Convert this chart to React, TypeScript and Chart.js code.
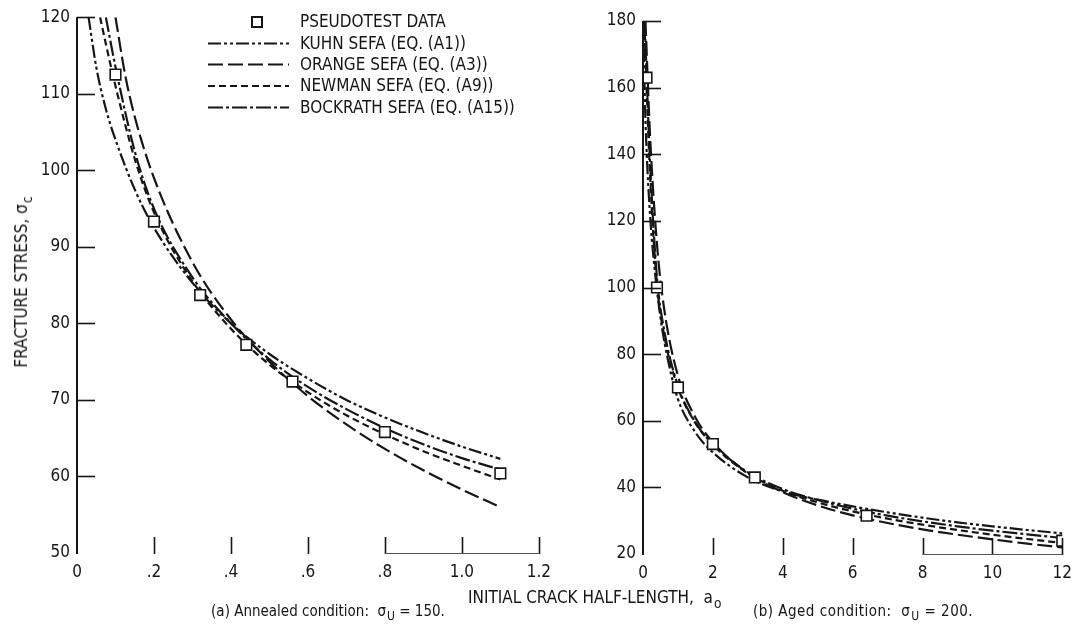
import React, { useEffect, useRef } from "react";
import { Chart, registerables } from "chart.js";
Chart.register(...registerables);

const FONT = '"Liberation Sans Narrow", "DejaVu Sans Condensed", "Arial Narrow", sans-serif';

// ---------- Panel (a): annealed ----------
const xTicksA = [0, 0.2, 0.4, 0.6, 0.8, 1.0, 1.2];
const xLabelsA = ["0", ".2", ".4", ".6", ".8", "1.0", "1.2"];
const yTicksA = [50, 60, 70, 80, 90, 100, 110, 120];

const testA_a = [0.1, 0.2, 0.32, 0.44, 0.56, 0.8, 1.1];
const testA_s = [112.5, 93.3, 83.7, 77.2, 72.4, 65.8, 60.4];

const kuhnA_a = [0.03, 0.05, 0.075, 0.1, 0.15, 0.2, 0.3, 0.4, 0.5, 0.6, 0.7, 0.8, 0.9, 1.0, 1.1];
const kuhnA_s = [120, 113.5, 108, 104, 97.5, 92.5, 85.3, 80, 76, 72.8, 70, 67.7, 65.7, 63.9, 62.3];

const orangeA_a = [0.1, 0.125, 0.15, 0.2, 0.3, 0.4, 0.5, 0.6, 0.7, 0.8, 0.9, 1.0, 1.1];
const orangeA_s = [120, 112.5, 107, 99, 88, 80.5, 75, 70.5, 66.8, 63.6, 60.8, 58.3, 56];

const newmanA_a = [0.06, 0.075, 0.1, 0.15, 0.2, 0.3, 0.4, 0.5, 0.6, 0.7, 0.8, 0.9, 1.0, 1.1];
const newmanA_s = [120, 116.5, 111, 101.5, 94.5, 85.5, 79.3, 74.6, 71, 68, 65.5, 63.3, 61.4, 59.6];

const bockA_a = [0.075, 0.1, 0.15, 0.2, 0.3, 0.4, 0.5, 0.6, 0.7, 0.8, 0.9, 1.0, 1.1];
const bockA_s = [120, 113.5, 102.5, 95, 86, 80, 75.3, 71.7, 68.8, 66.3, 64.2, 62.4, 60.9];

// ---------- Panel (b): aged ----------
const xTicksB = [0, 2, 4, 6, 8, 10, 12];
const xLabelsB = ["0", "2", "4", "6", "8", "10", "12"];
const yTicksB = [20, 40, 60, 80, 100, 120, 140, 160, 180];

const testB_a = [0.1, 0.4, 1, 2, 3.2, 6.4, 12];
const testB_s = [163, 100, 70, 53, 43, 31.5, 24];

const kuhnB_a = [0.015, 0.05, 0.1, 0.2, 0.3, 0.5, 0.75, 1, 1.5, 2, 3, 4, 5, 6, 7, 8, 9, 10, 11, 12];
const kuhnB_s = [180, 158, 142, 122, 109, 91, 76.5, 66.5, 56.5, 50.5, 43, 38.8, 36.3, 34.3, 32.5, 30.9, 29.5, 28.3, 27.2, 26.2];

const orangeB_a = [0.07, 0.1, 0.2, 0.4, 0.6, 1, 1.5, 2, 3, 4, 5, 6, 7, 8, 9, 10, 11, 12];
const orangeB_s = [180, 172, 146, 113, 94, 73.5, 61, 53.5, 44.3, 38.6, 34.6, 31.6, 29.3, 27.4, 25.8, 24.4, 23.1, 22];

const newmanB_a = [0.04, 0.1, 0.2, 0.4, 0.6, 1, 1.5, 2, 3, 4, 5, 6, 7, 8, 9, 10, 11, 12];
const newmanB_s = [180, 161, 134, 101, 86, 70, 59.3, 52.8, 44.2, 39, 35.5, 32.8, 30.6, 28.8, 27.2, 25.8, 24.5, 23.3];

const bockB_a = [0.05, 0.1, 0.2, 0.4, 0.6, 1, 1.5, 2, 3, 4, 5, 6, 7, 8, 9, 10, 11, 12];
const bockB_s = [180, 165, 138, 103, 87.5, 70.5, 59.5, 53, 44.5, 39.5, 36.2, 33.6, 31.5, 29.8, 28.3, 27, 25.9, 24.8];

const seriesNames = [
  "PSEUDOTEST DATA",
  "KUHN SEFA (EQ. (A1))",
  "ORANGE SEFA (EQ. (A3))",
  "NEWMAN SEFA (EQ. (A9))",
  "BOCKRATH SEFA (EQ. (A15))",
];

const INK = "#161616";
const DASH_KUHN = [13, 3, 3, 3, 3, 3];
const DASH_ORANGE = [15, 5];
const DASH_NEWMAN = [7, 4];
const DASH_BOCK = [15, 3, 3, 3];

const zip = (xs: number[], ys: number[]) => xs.map((x, i) => ({ x, y: ys[i] }));

function curve(label: string, xs: number[], ys: number[], dash: number[]) {
  return {
    label,
    data: zip(xs, ys),
    showLine: true,
    borderColor: INK,
    borderWidth: 2.2,
    borderDash: dash,
    pointRadius: 0,
    cubicInterpolationMode: "monotone" as const,
    fill: false,
  };
}

const axesPlugin = {
  id: "inwardAxes",
  afterDatasetsDraw(chart: any, _args: any, opts: any) {
    const { ctx, chartArea } = chart;
    const xs = chart.scales.x;
    const ys = chart.scales.y;
    ctx.save();
    ctx.setLineDash([]);
    ctx.strokeStyle = INK;
    ctx.lineWidth = 2;
    ctx.beginPath();
    ctx.moveTo(chartArea.left, chartArea.top);
    ctx.lineTo(chartArea.left, chartArea.bottom + 1);
    ctx.stroke();
    ctx.lineWidth = 1.6;
    opts.yTicks.forEach((v: number, i: number) => {
      if (i === 0) return;
      const py = Math.round(ys.getPixelForValue(v)) + 0.5;
      ctx.beginPath();
      ctx.moveTo(chartArea.left, py);
      ctx.lineTo(chartArea.left + opts.yLen, py);
      ctx.stroke();
    });
    opts.xTicks.forEach((v: number, i: number) => {
      if (i === 0) return;
      const px = Math.round(xs.getPixelForValue(v)) + 0.5;
      ctx.beginPath();
      ctx.moveTo(px, chartArea.bottom + 1);
      ctx.lineTo(px, chartArea.bottom - opts.xLen);
      ctx.stroke();
    });
    ctx.lineWidth = 1.2;
    ctx.strokeStyle = "#555";
    const b = Math.round(chartArea.bottom) + 0.5;
    ctx.beginPath();
    ctx.moveTo(xs.getPixelForValue(opts.baseFrom), b);
    ctx.lineTo(xs.getPixelForValue(opts.baseTo), b);
    ctx.stroke();
    ctx.restore();
  },
};

const legendPlugin = {
  id: "manualLegend",
  afterDatasetsDraw(chart: any, _args: any, opts: any) {
    if (!opts || !opts.show) return;
    const { ctx } = chart;
    const ds = chart.data.datasets;
    ctx.save();
    ctx.font = `17px ${FONT}`;
    ctx.fillStyle = INK;
    ctx.textBaseline = "middle";
    const rows = [22, 43.5, 64.5, 86, 107.5];
    ds.forEach((d: any, i: number) => {
      const y = rows[i];
      if (i === 0) {
        ctx.setLineDash([]);
        ctx.lineWidth = 2;
        ctx.strokeStyle = INK;
        ctx.fillStyle = "#fff";
        ctx.fillRect(252, y - 5, 10, 10);
        ctx.strokeRect(252, y - 5, 10, 10);
        ctx.fillStyle = INK;
      } else {
        ctx.setLineDash(d.borderDash || []);
        ctx.lineWidth = 2.2;
        ctx.strokeStyle = INK;
        ctx.beginPath();
        ctx.moveTo(208, y);
        ctx.lineTo(289, y);
        ctx.stroke();
      }
      ctx.fillText(d.label, 300, y + 1);
    });
    ctx.restore();
  },
};

function makeChart(
  canvas: HTMLCanvasElement,
  spec: {
    xMin: number; xMax: number; yMin: number; yMax: number;
    xTicks: number[]; xLabels: string[]; yTicks: number[];
    yWidth: number; xHeight: number; padTop: number; padRight: number;
    datasets: any[]; legend: boolean; baseFrom: number; baseTo: number;
  }
) {
  return new Chart(canvas, {
    type: "scatter",
    data: { datasets: spec.datasets },
    plugins: [axesPlugin, legendPlugin],
    options: {
      animation: false,
      responsive: false,
      devicePixelRatio: 1,
      layout: { padding: { top: spec.padTop, right: spec.padRight, left: 0, bottom: 0 } },
      plugins: {
        legend: { display: false },
        tooltip: { enabled: false },
        inwardAxes: {
          yTicks: spec.yTicks, xTicks: spec.xTicks, yLen: 18, xLen: 16,
          baseFrom: spec.baseFrom, baseTo: spec.baseTo,
        },
        manualLegend: { show: spec.legend },
      } as any,
      scales: {
        x: {
          type: "linear",
          min: spec.xMin,
          max: spec.xMax,
          afterFit: (s: any) => { s.height = spec.xHeight; },
          afterBuildTicks: (s: any) => { s.ticks = spec.xTicks.map((v) => ({ value: v })); },
          ticks: {
            autoSkip: false,
            maxRotation: 0,
            padding: 9,
            color: INK,
            font: { family: FONT, size: 17 },
            callback: (v: any) => spec.xLabels[spec.xTicks.indexOf(Number(v))] ?? "",
          },
          grid: { display: false, drawTicks: false },
          border: { display: false },
        },
        y: {
          type: "linear",
          min: spec.yMin,
          max: spec.yMax,
          afterFit: (s: any) => { s.width = spec.yWidth; },
          afterBuildTicks: (s: any) => { s.ticks = spec.yTicks.map((v) => ({ value: v })); },
          ticks: {
            autoSkip: false,
            padding: 7,
            color: INK,
            font: { family: FONT, size: 17 },
            callback: (v: any) => String(v),
          },
          grid: { display: false, drawTicks: false },
          border: { display: false },
        },
      },
    } as any,
  });
}

function dataPoints(xs: number[], ys: number[]) {
  return {
    label: seriesNames[0],
    data: zip(xs, ys),
    showLine: false,
    pointStyle: "rect",
    pointRadius: 7.5,
    pointBackgroundColor: "#fff",
    pointBorderColor: INK,
    pointBorderWidth: 1.6,
    borderColor: INK,
  };
}

const Sub = ({ children }: { children: React.ReactNode }) => (
  <span style={{ fontSize: "0.8em", position: "relative", top: "0.35em", marginLeft: 1 }}>{children}</span>
);

export default function App() {
  const refA = useRef<HTMLCanvasElement>(null);
  const refB = useRef<HTMLCanvasElement>(null);

  useEffect(() => {
    const a = makeChart(refA.current!, {
      xMin: 0, xMax: 1.2, yMin: 50, yMax: 120,
      xTicks: xTicksA, xLabels: xLabelsA, yTicks: yTicksA,
      yWidth: 77, xHeight: 90, padTop: 17, padRight: 18,
      legend: true, baseFrom: 0.8, baseTo: 1.2,
      datasets: [
        dataPoints(testA_a, testA_s),
        curve(seriesNames[1], kuhnA_a, kuhnA_s, DASH_KUHN),
        curve(seriesNames[2], orangeA_a, orangeA_s, DASH_ORANGE),
        curve(seriesNames[3], newmanA_a, newmanA_s, DASH_NEWMAN),
        curve(seriesNames[4], bockA_a, bockA_s, DASH_BOCK),
      ],
    });
    const b = makeChart(refB.current!, {
      xMin: 0, xMax: 12, yMin: 20, yMax: 180,
      xTicks: xTicksB, xLabels: xLabelsB, yTicks: yTicksB,
      yWidth: 83, xHeight: 89, padTop: 21, padRight: 13,
      legend: false, baseFrom: 8, baseTo: 12,
      datasets: [
        dataPoints(testB_a, testB_s),
        curve(seriesNames[1], kuhnB_a, kuhnB_s, DASH_KUHN),
        curve(seriesNames[2], orangeB_a, orangeB_s, DASH_ORANGE),
        curve(seriesNames[3], newmanB_a, newmanB_s, DASH_NEWMAN),
        curve(seriesNames[4], bockB_a, bockB_s, DASH_BOCK),
      ],
    });
    return () => { a.destroy(); b.destroy(); };
  }, []);

  return (
    <div style={{ position: "fixed", left: 0, top: 0, width: 1081, height: 643, background: "#fff", fontFamily: FONT, color: INK, overflow: "hidden" }}>
      <canvas ref={refA} width={560} height={643} style={{ position: "absolute", left: 0, top: 0 }} />
      <canvas ref={refB} width={521} height={643} style={{ position: "absolute", left: 560, top: 0 }} />
      <div style={{ position: "absolute", left: 21, top: 282, transform: "translate(-50%, -50%) rotate(-90deg)", whiteSpace: "nowrap", fontSize: 17 }}>
        FRACTURE STRESS, σ<Sub>c</Sub>
      </div>
      <div style={{ position: "absolute", left: 468, top: 587, whiteSpace: "nowrap", fontSize: 17 }}>
        INITIAL CRACK HALF-LENGTH,&nbsp; a<Sub>o</Sub>
      </div>
      <div style={{ position: "absolute", left: 128, width: 400, top: 602, textAlign: "center", whiteSpace: "nowrap", fontSize: 15 }}>
        (a) Annealed condition:&nbsp; σ<Sub>U</Sub> = 150.
      </div>
      <div style={{ position: "absolute", left: 663, width: 400, top: 602, textAlign: "center", whiteSpace: "nowrap", fontSize: 15, letterSpacing: 0.5 }}>
        (b) Aged condition:&nbsp; σ<Sub>U</Sub> = 200.
      </div>
    </div>
  );
}
